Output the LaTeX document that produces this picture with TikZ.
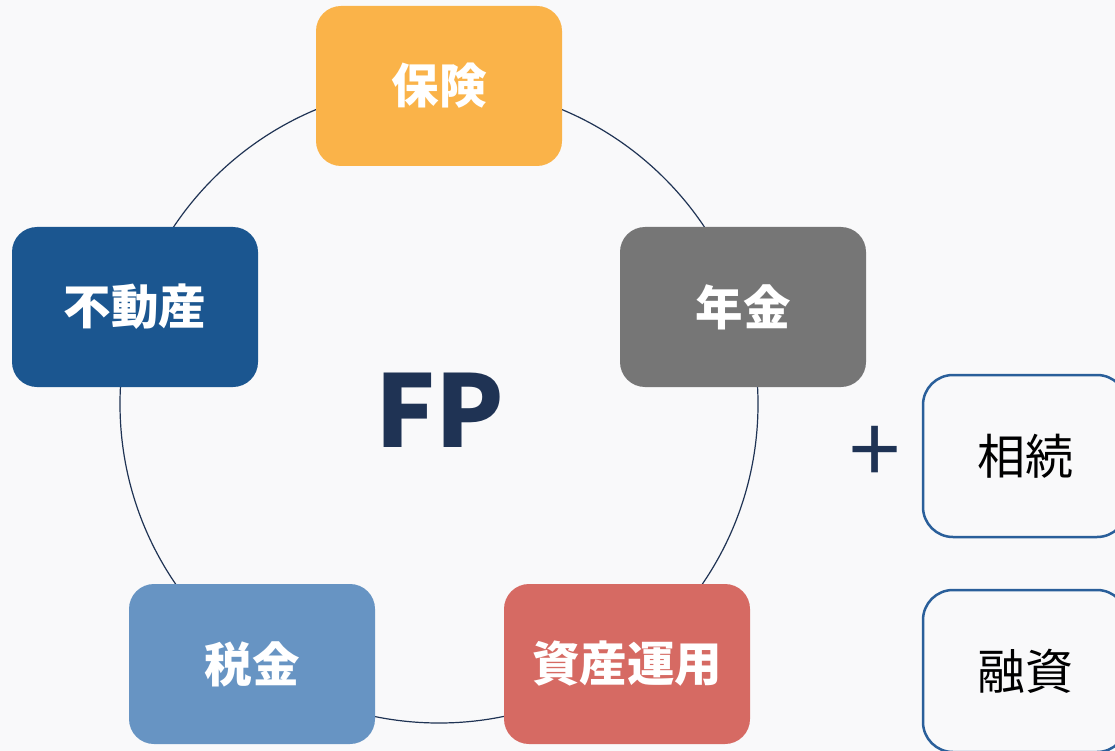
\documentclass[tikz,border=0pt]{standalone}
\usepackage{fontspec}
\newfontfamily\cjk{Noto Sans CJK JP}
\definecolor{bg}{HTML}{F9F9FA}
\definecolor{cOrange}{HTML}{FAB349}
\definecolor{cGray}{HTML}{767676}
\definecolor{cRed}{HTML}{D66A63}
\definecolor{cLight}{HTML}{6794C3}
\definecolor{cDark}{HTML}{1B5690}
\definecolor{cNavy}{HTML}{1F3354}
\definecolor{cBorder}{HTML}{2A5F9A}
\tikzset{
  cbox/.style={rounded corners=25pt, minimum width=246pt, minimum height=160pt, inner sep=0pt,
    text=white, font=\cjk\bfseries\fontsize{47.5}{52}\selectfont},
  rbox/.style={draw=cBorder, line width=2.5pt, fill=bg, rounded corners=30pt,
    minimum width=204pt, minimum height=162pt, inner sep=0pt,
    text=black, font=\cjk\fontsize{48}{52}\selectfont},
  ring/.style={draw=cNavy, line width=1.2pt}
}
\begin{document}
\begin{tikzpicture}[x=1pt,y=-1pt]
\fill[bg] (0,0) rectangle (1115,751);
\useasboundingbox (0,0) rectangle (1115,751);
\clip (0,0) rectangle (1115,751);
\coordinate (c) at (439,404);
\draw[ring] (c) circle[radius=319];
\node[cbox, fill=cOrange] (hoken) at (439,86) {保険};
\node[cbox, fill=cGray] (nenkin) at (743,307) {年金};
\node[cbox, fill=cRed] (shisan) at (627,664) {資産運用};
\node[cbox, fill=cLight] (zeikin) at (252,664) {税金};
\node[cbox, fill=cDark] (fudosan) at (135,307) {不動産};
\node[text=cNavy, font=\cjk\bfseries\fontsize{100}{100}\selectfont, inner sep=0pt] (fp) at (440,410) {FP};
\node[text=cNavy, font=\cjk\fontsize{92}{92}\selectfont, inner sep=0pt] (plus) at (875,455) {+};
\node[rbox] (sozoku) at (1025,456) {相続};
\node[rbox] (yushi) at (1025,671) {融資};
\end{tikzpicture}
\end{document}
